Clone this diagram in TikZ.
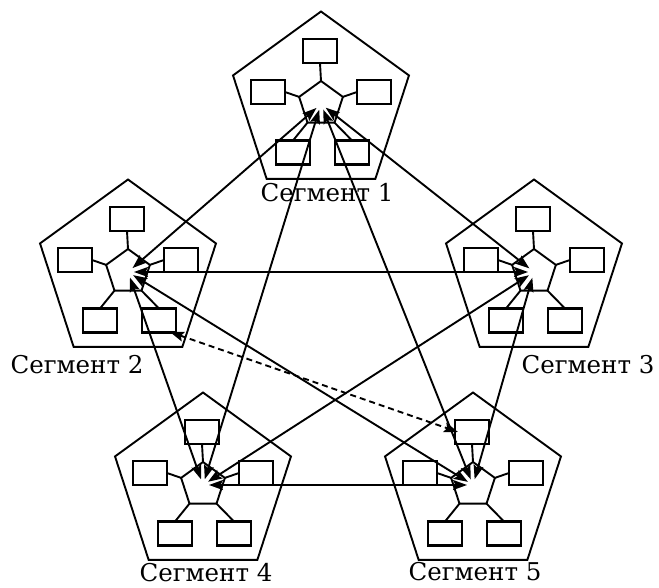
\documentclass[tikz,border=0pt]{standalone}
\usepackage{fontspec}
\setmainfont{DejaVu Serif}
\usetikzlibrary{shapes.geometric,arrows.meta}

\begin{document}
\begin{tikzpicture}[x=1pt,y=-1pt,
  outerpent/.style={draw, regular polygon, regular polygon sides=5,
    minimum size=185pt, inner sep=0pt, outer sep=0pt, line width=1.9pt},
  hub/.style={draw, regular polygon, regular polygon sides=5,
    minimum size=46pt, inner sep=0pt, outer sep=0pt, line width=1.9pt},
  station/.style={draw, rectangle, minimum width=34pt, minimum height=24pt,
    inner sep=0pt, outer sep=0pt, line width=2.3pt},
  tie/.style={line width=1.9pt},
  tip/.tip={Stealth[length=14pt,width=10pt,inset=2.5pt]},
  link/.style={line width=1.9pt, tip-tip, shorten <=6pt, shorten >=6pt},
  dashlink/.style={line width=1.9pt, tip-tip, dash pattern=on 6pt off 4pt},
  seglabel/.style={font=\fontsize{24.5}{28}\selectfont, anchor=base, inner sep=0pt}
]
\useasboundingbox (0,0) rectangle (659,588);

% five network segments: outer boundary, hub and five stations each
\foreach \n/\x/\y in {1/321/104, 2/128/272, 3/534/272, 4/203/485, 5/473/485} {
  \node[outerpent] (seg\n) at (\x,\y) {};
  \node[hub] (hub\n) at (\x,\y) {};
  \node[station] (st\n a) at (\x-1,\y-53) {};
  \node[station] (st\n b) at (\x-53,\y-12) {};
  \node[station] (st\n c) at (\x-28,\y+48.5) {};
  \node[station] (st\n d) at (\x+31,\y+48.5) {};
  \node[station] (st\n e) at (\x+53,\y-12) {};
  \draw[tie] (hub\n.corner 1) -- (st\n a.south);
  \draw[tie] (hub\n.corner 2) -- (st\n b.east);
  \draw[tie] (hub\n.corner 3) -- (st\n c.north);
  \draw[tie] (hub\n.corner 4) -- (st\n d.north);
  \draw[tie] (hub\n.corner 5) -- (st\n e.west);
}

% segment names
\node[seglabel] (lab1) at (327,202) {Сегмент 1};
\node[seglabel] (lab2) at (77,373) {Сегмент 2};
\node[seglabel] (lab3) at (588,373) {Сегмент 3};
\node[seglabel] (lab4) at (206,581) {Сегмент 4};
\node[seglabel] (lab5) at (475,580) {Сегмент 5};

% full mesh between the hubs
\draw[link] (hub1.center) -- (hub2.center);
\draw[link] (hub1.center) -- (hub3.center);
\draw[link] (hub1.center) -- (hub4.center);
\draw[link] (hub1.center) -- (hub5.center);
\draw[link] (hub2.center) -- (hub3.center);
\draw[link] (hub2.center) -- (hub4.center);
\draw[link] (hub2.center) -- (hub5.center);
\draw[link] (hub3.center) -- (hub4.center);
\draw[link] (hub3.center) -- (hub5.center);
\draw[link] (hub4.center) -- (hub5.center);

% station-to-station path across segments
\coordinate (dA) at (170,332);
\coordinate (dB) at (458,432);
\draw[dashlink] (dA) -- (dB);
\end{tikzpicture}
\end{document}
